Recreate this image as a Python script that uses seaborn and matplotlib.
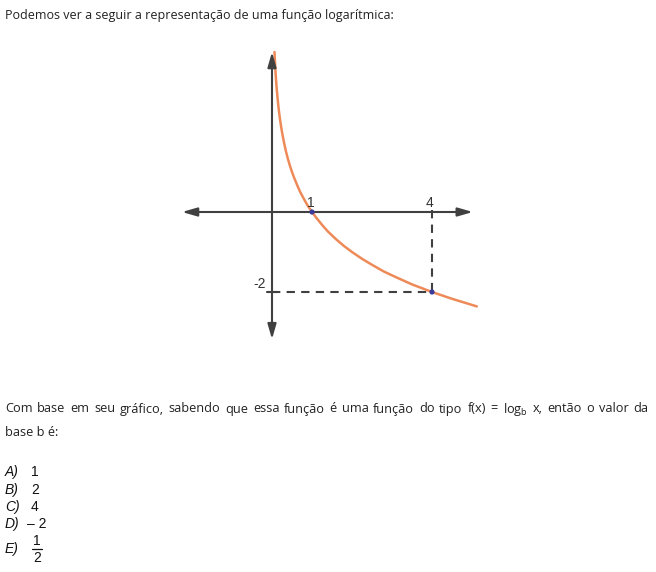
import numpy as np
import pandas as pd
import matplotlib
matplotlib.use("Agg")
import matplotlib.pyplot as plt
import seaborn as sns

# curve f(x) = log_{1/2}(x)
curve_x = [0.0625, 0.07, 0.08, 0.09, 0.1, 0.11, 0.125, 0.14, 0.16, 0.18, 0.2, 0.225, 0.25,
           0.28, 0.31, 0.35, 0.4, 0.45, 0.5, 0.56, 0.63, 0.7, 0.79, 0.88, 1.0, 1.12, 1.25,
           1.4, 1.6, 1.8, 2.0, 2.25, 2.5, 2.8, 3.1, 3.5, 4.0, 4.5, 5.12]
curve_y = [4.0, 3.84, 3.64, 3.47, 3.32, 3.18, 3.0, 2.84, 2.64, 2.47, 2.32, 2.15, 2.0,
           1.84, 1.69, 1.51, 1.32, 1.15, 1.0, 0.84, 0.67, 0.51, 0.34, 0.18, 0.0, -0.16, -0.32,
           -0.49, -0.68, -0.85, -1.0, -1.17, -1.32, -1.49, -1.63, -1.81, -2.0, -2.17, -2.36]
points_x = [1, 4]
points_y = [0, -2]
tick_labels = ["1", "4", "-2"]

intro = "Podemos ver a seguir a representação de uma função logarítmica:"
question_1 = ("Com base em seu gráfico, sabendo que essa função é uma função do tipo f(x) = "
              "log$\\mathregular{_b}$ x, então o valor da")
question_2 = "base b é:"
options = ["A)", "B)", "C)", "D)", "E)"]
option_values = ["1", "2", "4", "– 2", ""]

sns.set_theme(style="white")
plt.rcParams["font.family"] = ["Open Sans", "DejaVu Sans"]

W, H = 656, 572
fig = plt.figure(figsize=(W / 100, H / 100), dpi=100)

# axes box in pixels, 40 px per unit, origin at (272, 212)
px_l, px_r, px_t, px_b = 170, 490, 40, 350
ax = fig.add_axes([px_l / W, 1 - px_b / H, (px_r - px_l) / W, (px_b - px_t) / H])
ax.set_xlim((px_l - 272) / 40, (px_r - 272) / 40)
ax.set_ylim((212 - px_b) / 40, (212 - px_t) / 40)
ax.axis("off")

axis_col = "#404040"
arrow = dict(arrowstyle="-|>,head_length=0.9,head_width=0.26", color=axis_col, lw=1.5,
             shrinkA=0, shrinkB=0, mutation_scale=10)
ax.annotate("", xy=(-2.25, 0), xytext=(0.5, 0), arrowprops=arrow)
ax.annotate("", xy=(5.02, 0), xytext=(0.5, 0), arrowprops=arrow)
ax.annotate("", xy=(0, 4.0), xytext=(0, 0.5), arrowprops=arrow)
ax.annotate("", xy=(0, -3.18), xytext=(0, 0.5), arrowprops=arrow)

# dashed guides
ax.plot([0, points_x[1]], [points_y[1], points_y[1]], ls=(0, (4, 3)), color=axis_col, lw=1.5)
ax.plot([points_x[1], points_x[1]], [0.05, points_y[1]], ls=(0, (4, 3)), color=axis_col, lw=1.5)
ax.plot([-0.12, 0.12], [points_y[1], points_y[1]], color=axis_col, lw=1.5)

df = pd.DataFrame({"x": curve_x, "y": curve_y})
sns.lineplot(data=df, x="x", y="y", ax=ax, color="#ee8a58", lw=1.8, sort=False)
sns.scatterplot(x=points_x, y=points_y, ax=ax, color="#3b3b9a", s=14, zorder=5, edgecolor="none")

lab_kw = dict(fontsize=10, color="#333333", family="Liberation Sans")
ax.text(points_x[0] - 0.02, 0.06, tick_labels[0], ha="center", va="bottom", **lab_kw)
ax.text(points_x[1] - 0.05, 0.06, tick_labels[1], ha="center", va="bottom", **lab_kw)
ax.text(-0.15, points_y[1] + 0.02, tick_labels[2], ha="right", va="bottom", **lab_kw)

txt = "#222222"
fs = 9.2
fig.text(5 / W, 1 - 15 / H, intro, ha="left", va="center", fontsize=9.0, color=txt)

# justified first line of the question
renderer = fig.canvas.get_renderer()
words = question_1.split(" ")
arts = [fig.text(0, 1 - 409 / H, w, ha="left", va="center", fontsize=fs, color=txt) for w in words]
widths = [a.get_window_extent(renderer).width for a in arts]
left, right = 5, 648
gap = (right - left - sum(widths)) / (len(words) - 1)
x = left
for a, w in zip(arts, widths):
    a.set_x(x / W)
    x += w + gap
fig.text(5 / W, 1 - 432 / H, question_2, ha="left", va="center", fontsize=fs, color=txt)

ys = [472, 490, 507, 524, 549]
for lab, val, y in zip(options, option_values, ys):
    fig.text(5 / W, 1 - y / H, lab, ha="left", va="center", fontsize=10, style="italic",
             family="Liberation Sans", color="#111111")
    if val:
        fig.text(31 / W if not val.startswith("–") else 27 / W, 1 - y / H, val, ha="left", va="center",
                 fontsize=10, family="Liberation Sans", color="#111111")
fig.text(33 / W, 1 - 541 / H, "1", ha="left", va="center", fontsize=10, family="Liberation Sans", color="#111111")
fig.text(33 / W, 1 - 558 / H, "2", ha="left", va="center", fontsize=10, family="Liberation Sans", color="#111111")
fig.add_artist(plt.Line2D([32 / W, 42 / W], [1 - 549 / H, 1 - 549 / H], color="#111111", lw=0.9))

fig.savefig("out.png", dpi=100)
